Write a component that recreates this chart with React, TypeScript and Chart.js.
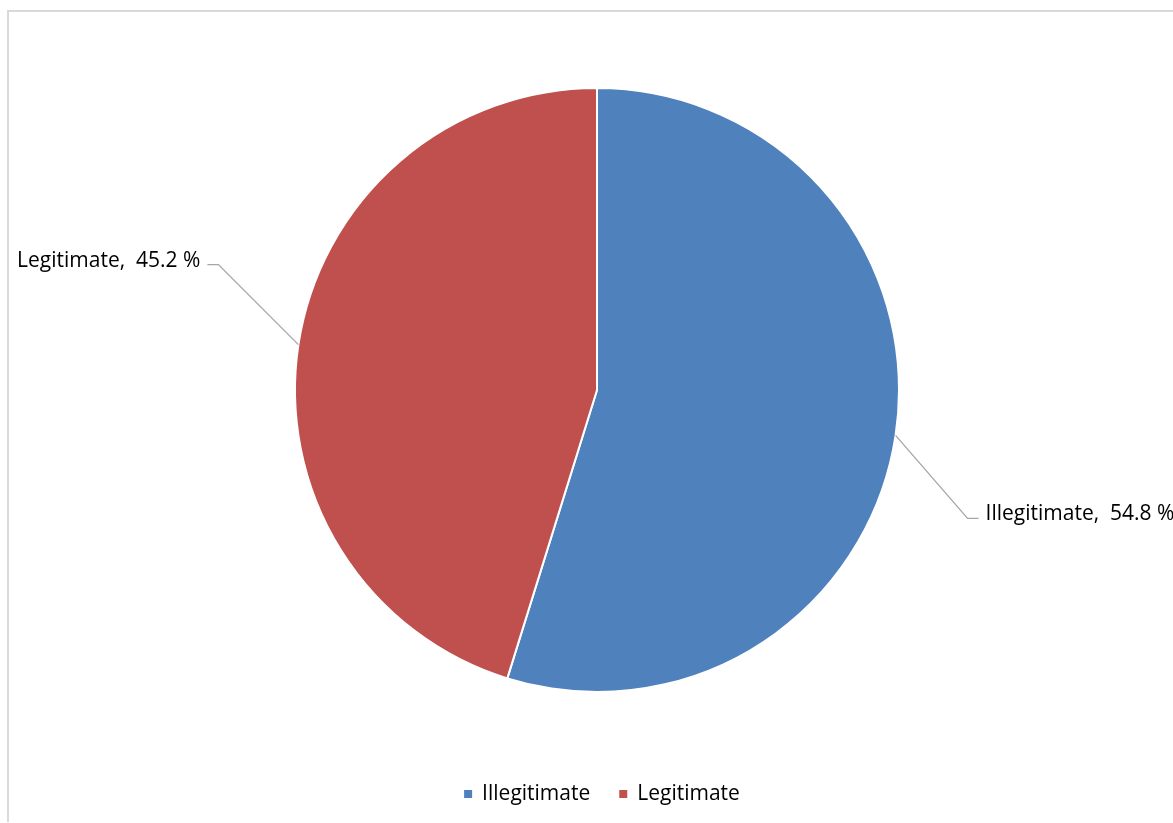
import React, { useEffect, useRef } from "react";
import { Chart, registerables } from "chart.js";

Chart.register(...registerables);

const categories = ["Illegitimate", "Legitimate"];
const values = [54.8, 45.2];
const valueLabels = ["54.8 %", "45.2 %"];
const colors = ["#4F81BD", "#C0504D"];

const FONT = '"Open Sans", "Noto Sans", sans-serif';
const FONT_SIZE = 21;

const overlayPlugin = {
  id: "overlay",
  afterDraw(chart: any) {
    const ctx = chart.ctx as CanvasRenderingContext2D;
    const meta = chart.getDatasetMeta(0);
    ctx.save();
    // frame
    ctx.fillStyle = "#d9d9d9";
    ctx.fillRect(7, 10, 2, 812);
    ctx.fillRect(7, 10, 1166, 2);

    ctx.font = `${FONT_SIZE}px ${FONT}`;
    ctx.textBaseline = "middle";
    meta.data.forEach((arc: any, i: number) => {
      const { x, y, outerRadius, startAngle, endAngle } = arc.getProps(
        ["x", "y", "outerRadius", "startAngle", "endAngle"],
        true
      );
      const mid = (startAngle + endAngle) / 2;
      const ex = x + Math.cos(mid) * outerRadius;
      const ey = y + Math.sin(mid) * outerRadius;
      const right = Math.cos(mid) >= 0;
      const dx = right ? 72 : -80;
      const dy = Math.sin(mid) >= 0 ? 83 : -80;
      const kx = ex + dx;
      const ky = ey + dy;
      const hx = kx + (right ? 11 : -11);
      ctx.strokeStyle = "#a6a6a6";
      ctx.lineWidth = 1.3;
      ctx.beginPath();
      ctx.moveTo(ex, ey);
      ctx.lineTo(kx, ky);
      ctx.lineTo(hx, ky);
      ctx.stroke();
      const text = `${categories[i]},  ${valueLabels[i]}`;
      ctx.fillStyle = "#000000";
      ctx.textAlign = right ? "left" : "right";
      ctx.fillText(text, hx + (right ? 7 : -7), ky - 4);
    });

    // legend
    const legendY = 794;
    const gap = 29;
    const box = 8;
    const widths = categories.map((c) => ctx.measureText(c).width);
    const itemW = widths.map((w) => box + 10 + w);
    const total = itemW.reduce((a, b) => a + b, 0) + gap * (categories.length - 1);
    let lx = 602 - total / 2;
    ctx.textAlign = "left";
    categories.forEach((c, i) => {
      ctx.fillStyle = colors[i];
      ctx.fillRect(lx, legendY - box / 2, box, box);
      ctx.fillStyle = "#000000";
      ctx.fillText(c, lx + box + 10, legendY);
      lx += itemW[i] + gap;
    });
    ctx.restore();
  },
};

export default function App() {
  const ref = useRef<HTMLCanvasElement | null>(null);
  useEffect(() => {
    if (!ref.current) return;
    const chart = new Chart(ref.current, {
      type: "pie",
      data: {
        labels: categories,
        datasets: [
          {
            data: values,
            backgroundColor: colors,
            borderColor: "#ffffff",
            borderWidth: 2,
          },
        ],
      },
      options: {
        animation: false,
        responsive: false,
        maintainAspectRatio: false,
        layout: { padding: { top: 87, bottom: 130, left: 294, right: 273 } },
        plugins: {
          legend: { display: false },
          tooltip: { enabled: false },
        },
      },
      plugins: [overlayPlugin],
    });
    return () => chart.destroy();
  }, []);
  return (
    <div style={{ position: "fixed", left: 0, top: 0, width: 1173, height: 823, background: "#fff" }}>
      <canvas ref={ref} width={1173} height={823} style={{ display: "block" }} />
    </div>
  );
}
